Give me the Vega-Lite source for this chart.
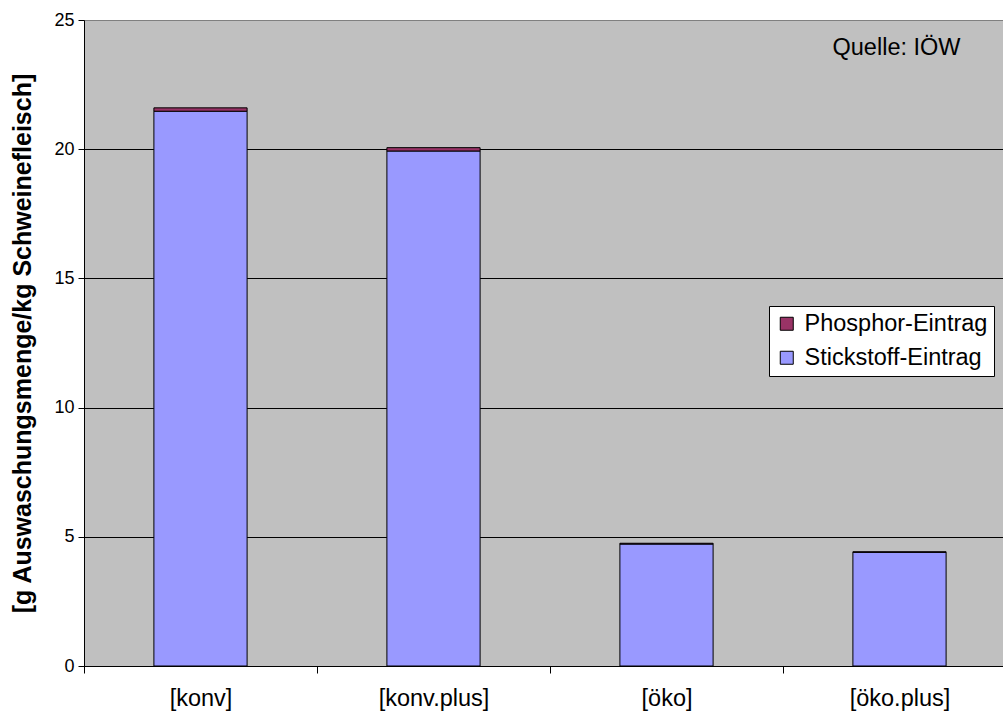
{
  "$schema": "https://vega.github.io/schema/vega-lite/v6.json",
  "width": 920,
  "height": 646,
  "autosize": {"type": "none"},
  "padding": {"left": 84, "top": 20, "right": 0, "bottom": 50},
  "background": "white",
  "config": {
    "view": {"fill": "#c0c0c0", "stroke": "#808080", "strokeWidth": 1},
    "font": "Liberation Sans"
  },
  "layer": [
    {
      "data": {
        "values": [
          {"Variante": "[konv]", "Komponente": "Stickstoff-Eintrag", "Wert": 21.47},
          {"Variante": "[konv]", "Komponente": "Phosphor-Eintrag", "Wert": 0.13},
          {"Variante": "[konv.plus]", "Komponente": "Stickstoff-Eintrag", "Wert": 19.93},
          {"Variante": "[konv.plus]", "Komponente": "Phosphor-Eintrag", "Wert": 0.13},
          {"Variante": "[öko]", "Komponente": "Stickstoff-Eintrag", "Wert": 4.72},
          {"Variante": "[öko]", "Komponente": "Phosphor-Eintrag", "Wert": 0.03},
          {"Variante": "[öko.plus]", "Komponente": "Stickstoff-Eintrag", "Wert": 4.4},
          {"Variante": "[öko.plus]", "Komponente": "Phosphor-Eintrag", "Wert": 0.02}
        ]
      },
      "mark": {"type": "bar", "stroke": "black", "strokeWidth": 1, "width": {"band": 0.4}},
      "encoding": {
        "x": {
          "field": "Variante",
          "type": "nominal",
          "sort": null,
          "scale": {"range": [0, 932], "paddingInner": 0, "paddingOuter": 0},
          "axis": {
            "title": null,
            "labelAngle": 0,
            "labelFont": "Liberation Sans",
            "labelFontSize": 23.5,
            "labelColor": "black",
            "labelPadding": 13,
            "tickSize": 7,
            "tickColor": "black",
            "tickBand": "extent",
            "domainColor": "black",
            "grid": false
          }
        },
        "y": {
          "field": "Wert",
          "type": "quantitative",
          "stack": "zero",
          "scale": {"domain": [0, 25], "nice": false},
          "axis": {
            "title": "[g Auswaschungsmenge/kg Schweinefleisch]",
            "titleFont": "Liberation Sans",
            "titleFontWeight": "bold",
            "titleFontSize": 25,
            "titleColor": "black",
            "titlePadding": 18,
            "values": [0, 5, 10, 15, 20, 25],
            "labelFont": "Liberation Sans",
            "labelFontSize": 18,
            "labelColor": "black",
            "labelPadding": 4,
            "tickSize": 6,
            "tickColor": "black",
            "domainColor": "black",
            "grid": true,
            "gridColor": {"condition": {"test": "datum.value === 25", "value": "#808080"}, "value": "black"},
            "gridOpacity": 1
          }
        },
        "color": {
          "field": "Komponente",
          "type": "nominal",
          "scale": {
            "domain": ["Phosphor-Eintrag", "Stickstoff-Eintrag"],
            "range": ["#993366", "#9999ff"]
          },
          "legend": {
            "orient": "none",
            "legendX": 685,
            "legendY": 286,
            "title": null,
            "fillColor": "white",
            "strokeColor": "black",
            "padding": 6,
            "rowPadding": 9,
            "symbolType": "square",
            "symbolSize": 169,
            "symbolStrokeColor": "black",
            "symbolStrokeWidth": 1,
            "symbolOpacity": 1,
            "labelFont": "Liberation Sans",
            "labelFontSize": 23.5,
            "labelColor": "black",
            "labelOffset": 6,
            "labelLimit": 300
          }
        },
        "order": {"field": "Komponente", "sort": "descending"}
      }
    },
    {
      "data": {"values": [{"Variante": "[öko.plus]", "Wert": 23.92, "Text": "Quelle: IÖW"}]},
      "mark": {"type": "text", "align": "right", "baseline": "middle", "dx": 61, "font": "Liberation Sans", "fontSize": 23.5, "color": "black"},
      "encoding": {
        "x": {"field": "Variante", "type": "nominal", "sort": null},
        "y": {"field": "Wert", "type": "quantitative"},
        "text": {"field": "Text"}
      }
    }
  ]
}
